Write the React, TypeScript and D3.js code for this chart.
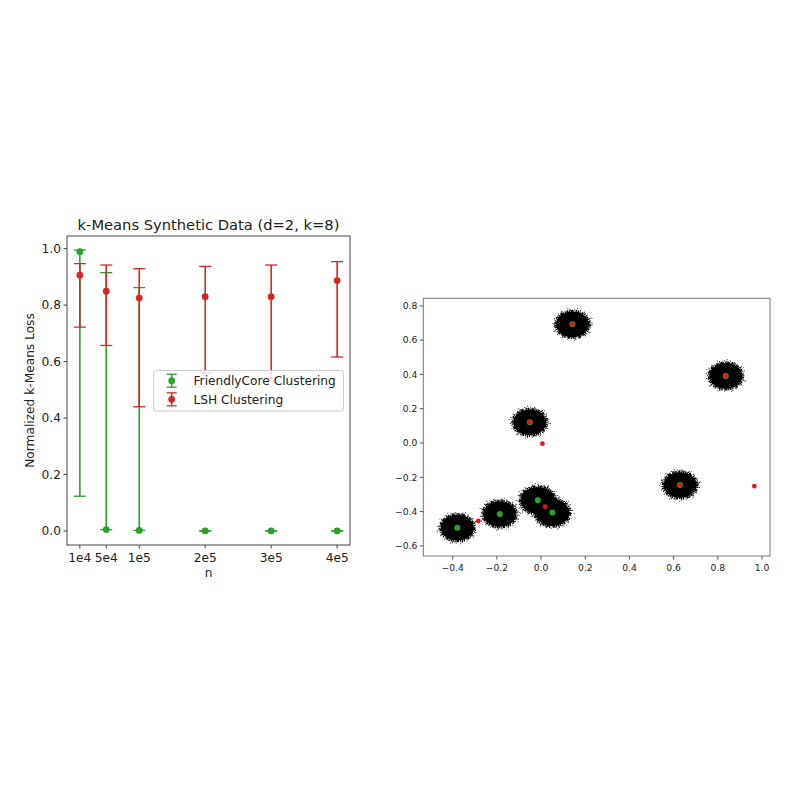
import React from "react";
import * as d3 from "d3";

// left panel: normalized k-means loss vs n
const nValues = [1e4, 5e4, 1e5, 2e5, 3e5, 4e5];
const nLabels = ["1e4", "5e4", "1e5", "2e5", "3e5", "4e5"];
const lossTicks = [0, 0.2, 0.4, 0.6, 0.8, 1.0];

const fcMean = [0.989, 0.005, 0.002, 0.0, 0.0, 0.0];
const fcLow = [0.123, 0.005, 0.002, 0.0, 0.0, 0.0];
const fcHigh = [0.995, 0.915, 0.862, 0.0, 0.0, 0.0];

const lshMean = [0.906, 0.849, 0.825, 0.83, 0.83, 0.887];
const lshLow = [0.722, 0.657, 0.44, 0.56, 0.54, 0.616];
const lshHigh = [0.947, 0.942, 0.929, 0.937, 0.942, 0.954];

// right panel: synthetic clusters and found centers
const clusterX = [0.142, 0.836, -0.051, 0.629, -0.379, -0.187, -0.015, 0.051];
const clusterY = [0.692, 0.391, 0.121, -0.245, -0.494, -0.414, -0.334, -0.406];
const clusterRadius = [0.075, 0.075, 0.075, 0.075, 0.075, 0.075, 0.078, 0.078];

const greenX = clusterX;
const greenY = clusterY;
const redX = [0.142, 0.836, -0.051, 0.629, 0.006, -0.284, 0.018, 0.965];
const redY = [0.692, 0.391, 0.121, -0.245, -0.004, -0.455, -0.371, -0.251];

const xTicksR = [-0.4, -0.2, 0.0, 0.2, 0.4, 0.6, 0.8, 1.0];
const yTicksR = [-0.6, -0.4, -0.2, 0.0, 0.2, 0.4, 0.6, 0.8];

const GREEN = "#2ca02c";
const RED = "#d62728";
const FONT = "DejaVu Sans";

// speckle rings around each blob: scale of radius, stroke width, dash pattern
const rings = [
  { k: 1.03, w: 2.2, dash: "1.6 0.6 0.9 1.1 2.2 0.5 0.7 1.4 1.1 0.8" },
  { k: 1.1, w: 1.4, dash: "0.9 1.7 0.6 2.9 1.2 1.1 0.7 3.6 0.8 2.2" },
  { k: 1.18, w: 1.1, dash: "0.9 5.3 0.8 3.1 1 7.4 0.7 4.2" },
  { k: 1.26, w: 1.0, dash: "0.9 13 0.8 9 1 17" },
];

const fmt = (v: number) => v.toFixed(1).replace("-", "\u2212");

function LeftPanel() {
  const L = 67, R = 350, T = 236, B = 545;
  const span = 4e5 - 1e4;
  const x = d3.scaleLinear().domain([1e4 - 0.05 * span, 4e5 + 0.05 * span]).range([L, R]);
  const yspan = 0.995;
  const y = d3.scaleLinear().domain([-0.05 * yspan, 0.995 + 0.05 * yspan]).range([B, T]);
  const cap = 6;

  const series = (mean: number[], low: number[], high: number[], color: string) => (
    <g>
      {nValues.map((n, i) => (
        <g key={i}>
          <line x1={x(n)} x2={x(n)} y1={y(low[i])} y2={y(high[i])} stroke={color} strokeWidth={1.6} />
          <line x1={x(n) - cap} x2={x(n) + cap} y1={y(low[i])} y2={y(low[i])} stroke={color} strokeWidth={1.3} />
          <line x1={x(n) - cap} x2={x(n) + cap} y1={y(high[i])} y2={y(high[i])} stroke={color} strokeWidth={1.3} />
          <circle cx={x(n)} cy={y(mean[i])} r={3.4} fill={color} />
        </g>
      ))}
    </g>
  );

  const legendGlyph = (cx: number, cy: number, color: string) => (
    <g>
      <line x1={cx} x2={cx} y1={cy - 6.5} y2={cy + 6.5} stroke={color} strokeWidth={1.6} />
      <line x1={cx - 5} x2={cx + 5} y1={cy - 6.5} y2={cy - 6.5} stroke={color} strokeWidth={1.3} />
      <line x1={cx - 5} x2={cx + 5} y1={cy + 6.5} y2={cy + 6.5} stroke={color} strokeWidth={1.3} />
      <circle cx={cx} cy={cy} r={3.4} fill={color} />
    </g>
  );

  return (
    <g fontFamily={FONT} fill="#222">
      <text x={(L + R) / 2} y={230} textAnchor="middle" fontSize={14.7}>
        k-Means Synthetic Data (d=2, k=8)
      </text>
      {series(fcMean, fcLow, fcHigh, GREEN)}
      {series(lshMean, lshLow, lshHigh, RED)}
      <rect x={L} y={T} width={R - L} height={B - T} fill="none" stroke="#444" strokeWidth={1} />
      {lossTicks.map((t) => (
        <g key={t}>
          <line x1={L - 3.5} x2={L} y1={y(t)} y2={y(t)} stroke="#444" />
          <text x={L - 6} y={y(t)} dy="0.35em" textAnchor="end" fontSize={12.2}>
            {t.toFixed(1)}
          </text>
        </g>
      ))}
      {nValues.map((n, i) => (
        <g key={n}>
          <line x1={x(n)} x2={x(n)} y1={B} y2={B + 3.5} stroke="#444" />
          <text x={x(n)} y={562} textAnchor="middle" fontSize={12.2}>
            {nLabels[i]}
          </text>
        </g>
      ))}
      <text x={(L + R) / 2} y={577} textAnchor="middle" fontSize={12.2}>n</text>
      <text
        transform={`translate(34,${(T + B) / 2}) rotate(-90)`}
        textAnchor="middle"
        fontSize={12.2}
      >
        Normalized k-Means Loss
      </text>
      <rect x={153.5} y={370.5} width={190} height={40.5} rx={3} fill="#fff" fillOpacity={0.8} stroke="#ccc" strokeWidth={1} />
      {legendGlyph(171.7, 380.7, GREEN)}
      {legendGlyph(171.7, 399.3, RED)}
      <text x={193.5} y={380.7} dy="0.35em" fontSize={12.2}>FriendlyCore Clustering</text>
      <text x={193.5} y={399.3} dy="0.35em" fontSize={12.2}>LSH Clustering</text>
    </g>
  );
}

function RightPanel() {
  const L = 423.3, R = 770, T = 298.3, B = 556;
  const x = d3.scaleLinear().domain([-0.533, 1.036]).range([L, R]);
  const y = d3.scaleLinear().domain([-0.659, 0.844]).range([B, T]);
  const kx = x(1) - x(0);
  const ky = y(0) - y(1);

  return (
    <g fontFamily={FONT} fill="#222">
      {clusterX.map((cx, i) => {
        const r = clusterRadius[i];
        return (
          <g key={i}>
            {rings.map((ring, j) => (
              <ellipse
                key={j}
                cx={x(cx)}
                cy={y(clusterY[i])}
                rx={r * kx * ring.k}
                ry={r * ky * ring.k}
                fill="none"
                stroke="#000"
                strokeWidth={ring.w}
                strokeDasharray={ring.dash}
                strokeDashoffset={i * 3.7 + j * 5.1}
              />
            ))}
            <ellipse cx={x(cx)} cy={y(clusterY[i])} rx={r * kx} ry={r * ky} fill="#000" />
          </g>
        );
      })}
      {greenX.map((gx, i) => (
        <circle key={"g" + i} cx={x(gx)} cy={y(greenY[i])} r={3} fill={GREEN} />
      ))}
      {redX.map((rx, i) => (
        <circle key={"r" + i} cx={x(rx)} cy={y(redY[i])} r={2.4} fill="#e8161b" />
      ))}
      <rect x={L} y={T} width={R - L} height={B - T} fill="none" stroke="#777" strokeWidth={1} />
      {yTicksR.map((t) => (
        <g key={t}>
          <line x1={L - 3.5} x2={L} y1={y(t)} y2={y(t)} stroke="#555" />
          <text x={L - 6} y={y(t)} dy="0.35em" textAnchor="end" fontSize={9.2}>
            {fmt(t)}
          </text>
        </g>
      ))}
      {xTicksR.map((t) => (
        <g key={t}>
          <line x1={x(t)} x2={x(t)} y1={B} y2={B + 3.5} stroke="#555" />
          <text x={x(t)} y={571} textAnchor="middle" fontSize={9.2}>
            {fmt(t)}
          </text>
        </g>
      ))}
    </g>
  );
}

export default function App() {
  return (
    <svg
      width={800}
      height={800}
      style={{ position: "absolute", left: 0, top: 0, background: "#fff" }}
    >
      <rect width={800} height={800} fill="#fff" />
      <LeftPanel />
      <RightPanel />
    </svg>
  );
}
